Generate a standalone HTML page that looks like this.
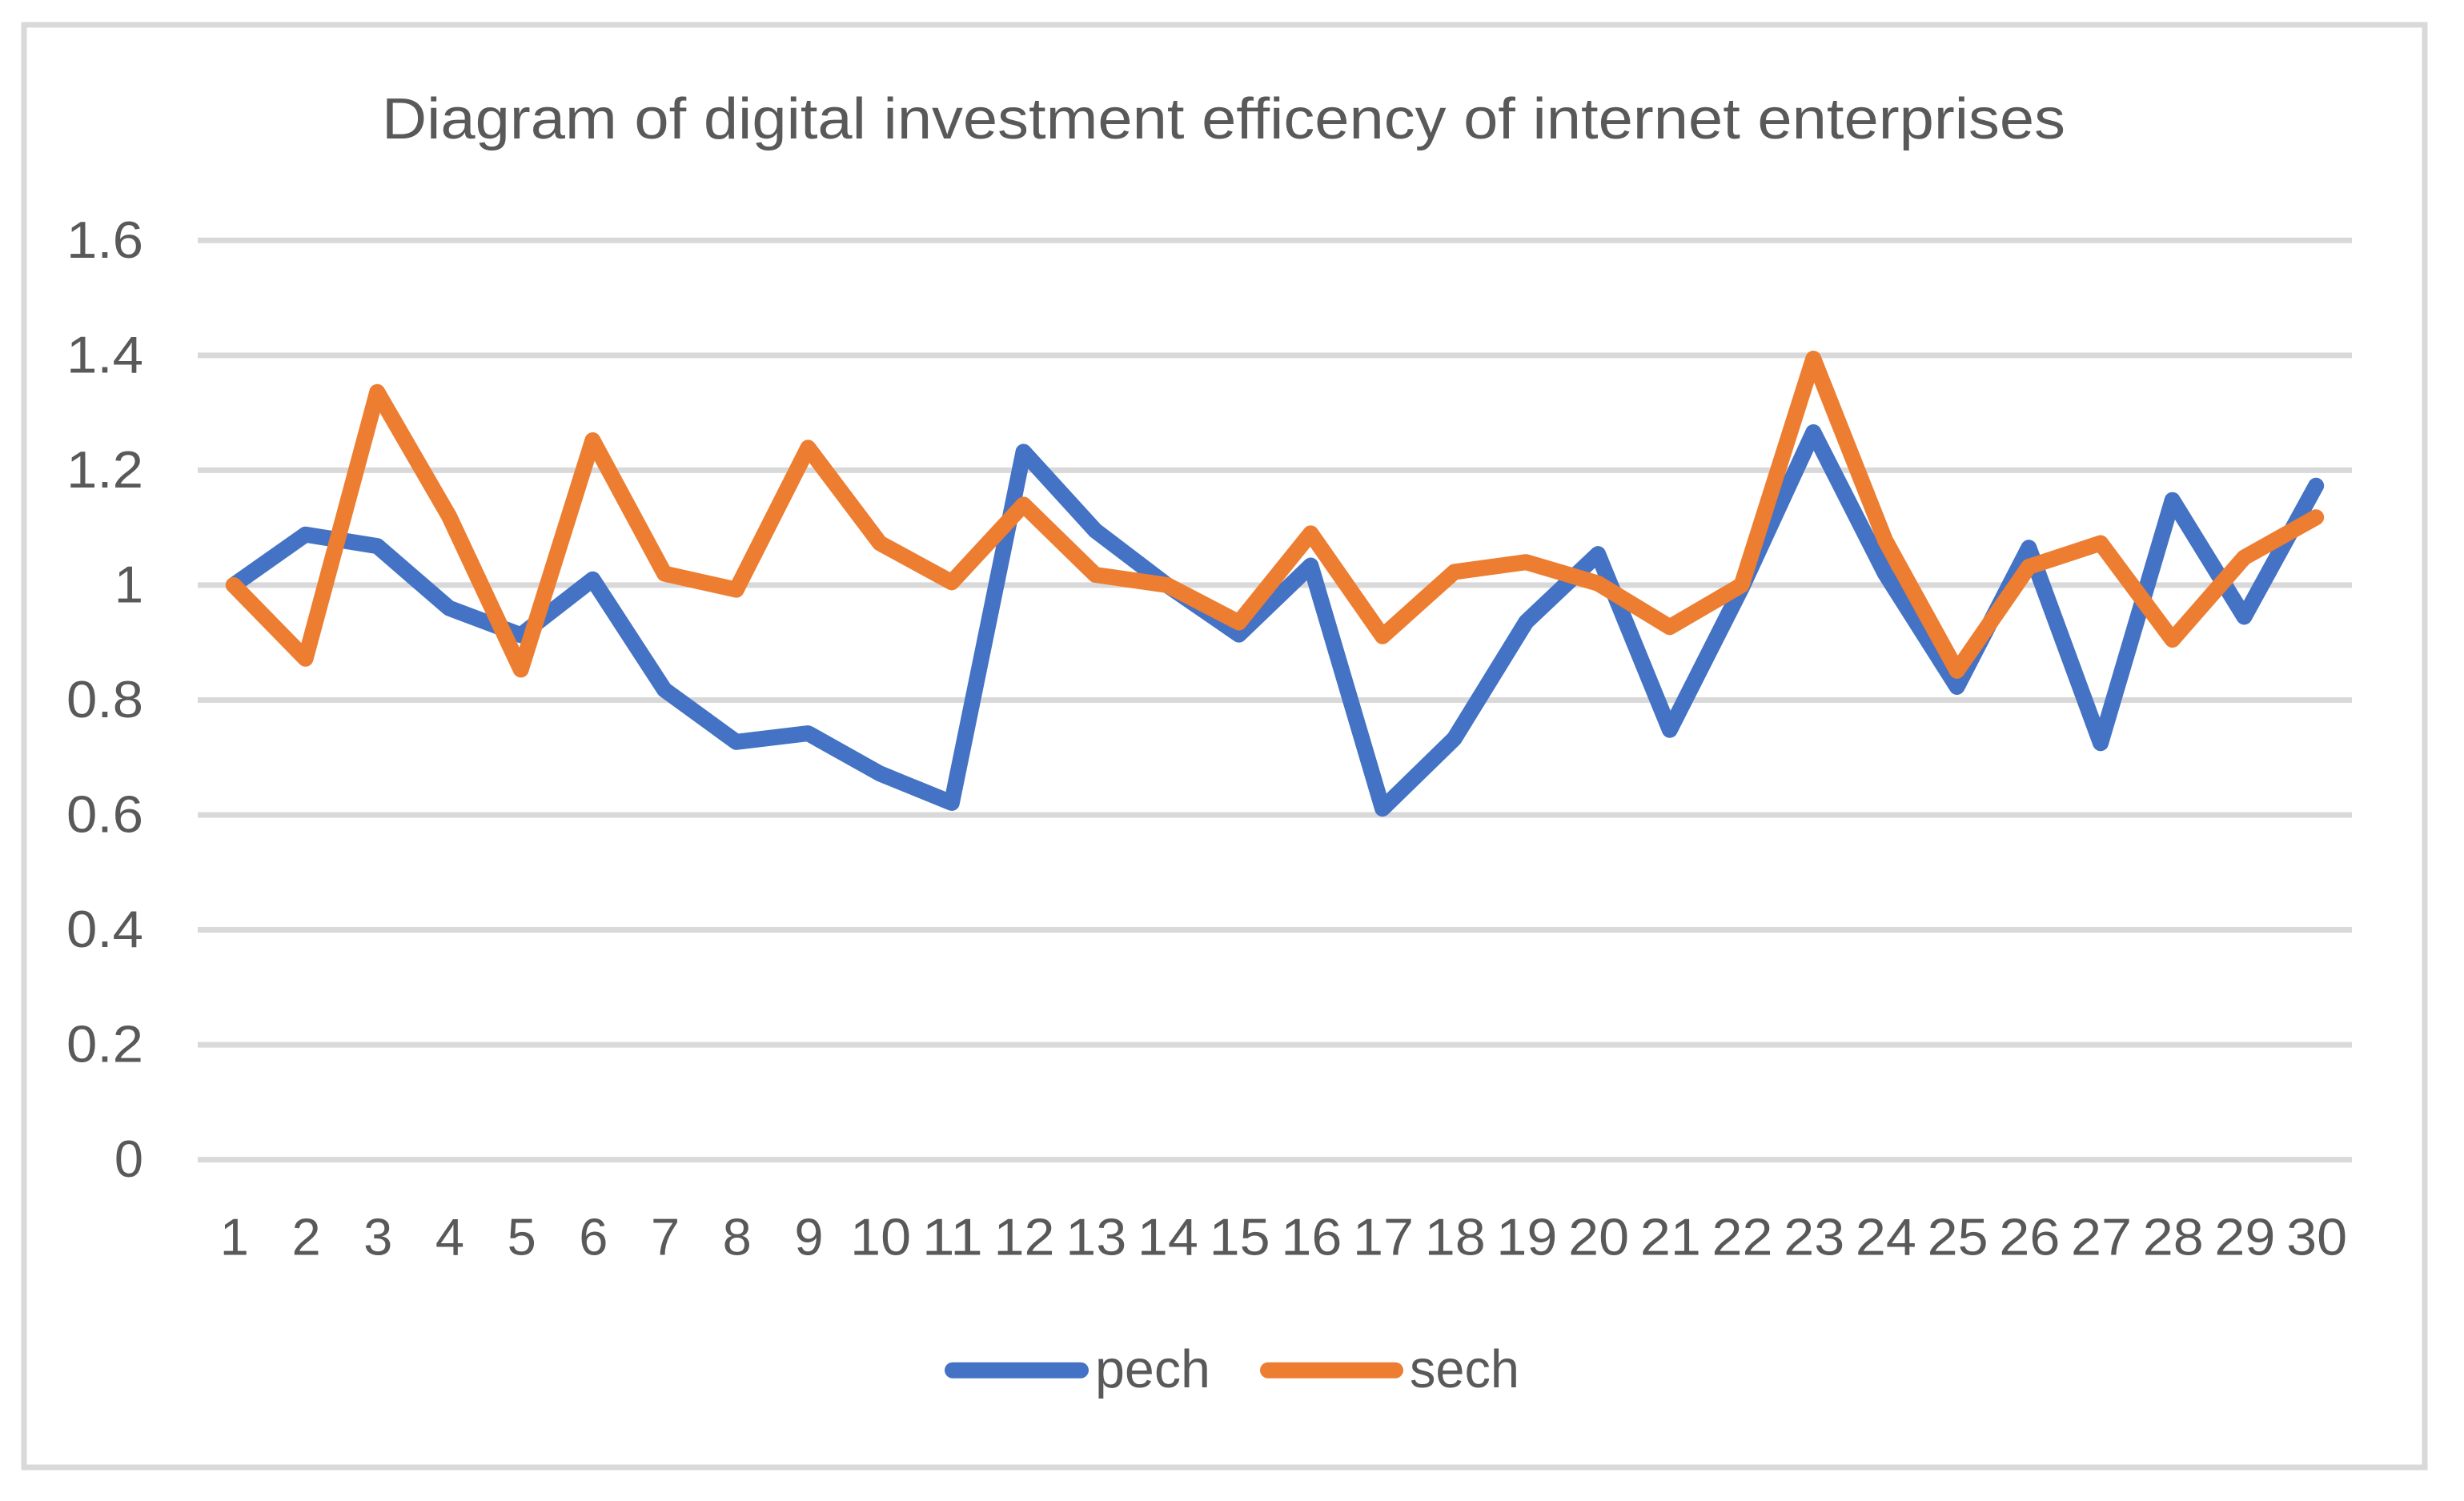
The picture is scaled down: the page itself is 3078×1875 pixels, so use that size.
<!DOCTYPE html>
<html lang="en">
<head>
<meta charset="utf-8">
<title>Diagram of digital investment efficency of internet enterprises</title>
<style>
  html, body { margin: 0; padding: 0; background: #ffffff; }
  svg { display: block; }
  text { font-family: "Liberation Sans", sans-serif; fill: #595959; }
</style>
</head>
<body>
<svg id="chart" xmlns="http://www.w3.org/2000/svg" width="3078" height="1875" viewBox="0 0 3078 1875">
  <rect x="0" y="0" width="3078" height="1875" fill="#ffffff"/>
  <rect x="30" y="31" width="2999" height="1802" fill="#ffffff" stroke="#d9d9d9" stroke-width="7"/>
  <text x="477" y="173" font-size="72" textLength="2103" lengthAdjust="spacingAndGlyphs">Diagram of digital investment efficency of internet enterprises</text>
  <g id="grid"></g>
  <g id="y-axis"></g>
  <g id="x-axis"></g>
  <g id="series"></g>
  <g>
    <g>
      <line x1="1190" y1="1711.7" x2="1350" y2="1711.7" stroke="#4472c4" stroke-width="20" stroke-linecap="round"/>
      <text x="1368" y="1733" font-size="67" textLength="144" lengthAdjust="spacingAndGlyphs">pech</text>
    </g>
    <g>
      <line x1="1584" y1="1711.7" x2="1743" y2="1711.7" stroke="#ed7d31" stroke-width="20" stroke-linecap="round"/>
      <text x="1761" y="1733" font-size="67" textLength="137" lengthAdjust="spacingAndGlyphs">sech</text>
    </g>
  </g>
</svg>
<script>
const categories = ['1','2','3','4','5','6','7','8','9','10','11','12','13','14','15','16','17','18','19','20','21','22','23','24','25','26','27','28','29','30'];
const pech = [1.0,1.088,1.068,0.96,0.913,1.01,0.818,0.727,0.742,0.672,0.621,1.232,1.095,1.0,0.914,1.034,0.611,0.733,0.936,1.054,0.748,0.995,1.266,1.02,0.823,1.065,0.725,1.148,0.945,1.173];
const sech = [1.0,0.872,1.336,1.12,0.853,1.252,1.02,0.992,1.239,1.073,1.005,1.14,1.018,1.0,0.935,1.09,0.911,1.023,1.04,1.003,0.927,1.0,1.394,1.078,0.851,1.032,1.073,0.905,1.048,1.118];
const yTicks = [0,0.2,0.4,0.6,0.8,1,1.2,1.4,1.6];
const yTickLabels = ['0','0.2','0.4','0.6','0.8','1','1.2','1.4','1.6'];

const SVG_NS = 'http://www.w3.org/2000/svg';
const plotLeft = 247, plotRight = 2938, plotBottom = 1448.6, plotTop = 300.3;
const yMin = 0, yMax = 1.6;

function xScale(i) {
  return plotLeft + (plotRight - plotLeft) * (i + 0.5) / categories.length;
}
function yScale(v) {
  return plotBottom - (v - yMin) / (yMax - yMin) * (plotBottom - plotTop);
}

const gridGroup = document.getElementById('grid');
const yAxisGroup = document.getElementById('y-axis');
const xAxisGroup = document.getElementById('x-axis');
const seriesGroup = document.getElementById('series');

yTicks.forEach(function (tick, i) {
  const line = document.createElementNS(SVG_NS, 'line');
  
  
  line.setAttribute('x1', plotLeft);
  line.setAttribute('x2', plotRight);
  line.setAttribute('y1', yScale(tick));
  line.setAttribute('y2', yScale(tick));
  line.setAttribute('stroke', '#d9d9d9');
  line.setAttribute('stroke-width', '7');
  gridGroup.appendChild(line);

  const label = document.createElementNS(SVG_NS, 'text');
  
  
  label.setAttribute('x', 179);
  label.setAttribute('y', yScale(tick) + 21.5);
  label.setAttribute('font-size', '65');
  label.setAttribute('text-anchor', 'end');
  if (yTickLabels[i].length === 3) {
    label.setAttribute('textLength', '96');
    label.setAttribute('lengthAdjust', 'spacingAndGlyphs');
  }
  label.textContent = yTickLabels[i];
  yAxisGroup.appendChild(label);
});

categories.forEach(function (cat, i) {
  const label = document.createElementNS(SVG_NS, 'text');
  
  
  label.setAttribute('x', xScale(i) + 1);
  label.setAttribute('y', 1567.5);
  label.setAttribute('font-size', '65');
  label.setAttribute('text-anchor', 'middle');
  if (cat.length === 2) {
    label.setAttribute('textLength', '76');
    label.setAttribute('lengthAdjust', 'spacingAndGlyphs');
  }
  label.textContent = cat;
  xAxisGroup.appendChild(label);
});

function drawSeries(values, color) {
  const line = document.createElementNS(SVG_NS, 'polyline');
  line.setAttribute('points', values.map(function (v, i) {
    return xScale(i).toFixed(2) + ',' + yScale(v).toFixed(2);
  }).join(' '));
  line.setAttribute('fill', 'none');
  line.setAttribute('stroke', color);
  line.setAttribute('stroke-width', '20');
  line.setAttribute('stroke-linecap', 'round');
  line.setAttribute('stroke-linejoin', 'round');
  seriesGroup.appendChild(line);
  return line;
}

const pechLine = drawSeries(pech, '#4472c4');



const sechLine = drawSeries(sech, '#ed7d31');


</script>
</body>
</html>
